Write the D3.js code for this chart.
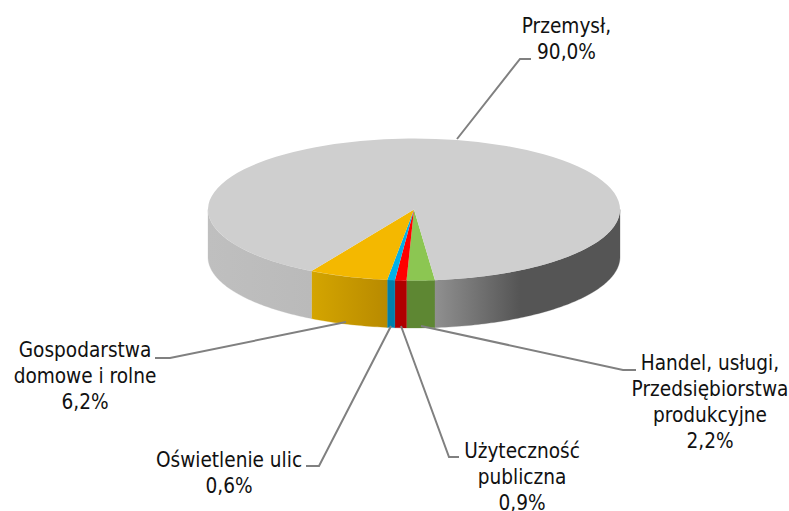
<!DOCTYPE html>
<html><head><meta charset="utf-8">
<script src="https://cdn.jsdelivr.net/npm/d3@7/dist/d3.min.js"></script>
<style>html,body{margin:0;background:#fff}svg{display:block}text{font-family:"DejaVu Sans Condensed","DejaVu Sans",sans-serif;font-size:20.6px;fill:#111;text-anchor:middle}</style>
</head><body><svg id="c" width="789" height="511"></svg>
<script>
const categories = ["Handel, usługi, Przedsiębiorstwa produkcyjne","Użyteczność publiczna","Oświetlenie ulic","Gospodarstwa domowe i rolne","Przemysł"];
const shares = [2.2,0.9,0.6,6.2,90.0];
const shareLabels = ["2,2%","0,9%","0,6%","6,2%","90,0%"];
const topColors = ["#8cc652","#ff0000","#00b0e8","#f4b800","#cfcfcf"];
const wallStops = [
 [[0,"#5e8733"],[1,"#5e8733"]],
 [[0,"#b00000"],[1,"#b00000"]],
 [[0,"#007fac"],[1,"#007fac"]],
 [[0,"#d4a500"],[1,"#b88a00"]],
 [[0,"#bfbfbf"],[0.25,"#bababa"],[0.55,"#909090"],[0.757,"#555555"],[1,"#555555"]]
];
const labelLines = [
 ["Handel, usługi,","Przedsiębiorstwa","produkcyjne","2,2%"],
 ["Użyteczność","publiczna","0,9%"],
 ["Oświetlenie ulic","0,6%"],
 ["Gospodarstwa","domowe i rolne","6,2%"],
 ["Przemysł,","90,0%"]
];
const labelCentres = [710,522,229,85,566.5];
const labelBases = [370,458,467,357,33];
const leaderPaths = [
 [[421,326],[623,370],[636,370]],
 [[401,326],[449,457],[459,457]],
 [[391,326],[319,466],[306,466]],
 [[346,322],[170,358],[155,358]],
 [[457,139],[520,59],[531,59]]
];
const cx=414, cy=209.5, rx=206, ry=71, depth=47.5, lineH=26;
const svg=d3.select("#c"), defs=svg.append("defs");
const pie=d3.pie().sort(null).value(d=>d).startAngle((180-5.85)*Math.PI/180).endAngle((180-5.85+360)*Math.PI/180);
const arcs=pie(shares);
const px=a=>cx+rx*Math.sin(a), py=a=>cy-ry*Math.cos(a);

const wall=d3.area().x(d=>px(d)).y0(d=>py(d)).y1(d=>py(d)+depth);
wallStops.forEach((st,i)=>{
  const g=defs.append("linearGradient").attr("id","w"+i).attr("gradientUnits","userSpaceOnUse");
  const a=arcs[i];
  const lo=i===4?cx-rx:px(a.endAngle), hi=i===4?cx+rx:px(a.startAngle);
  g.attr("x1",lo).attr("x2",hi).attr("y1",0).attr("y2",0);
  st.forEach(s=>g.append("stop").attr("offset",s[0]).attr("stop-color",s[1]));
});
const PI=Math.PI;
arcs.forEach((a,i)=>{
  const ranges=[];
  [[a.startAngle,a.endAngle],[a.startAngle+2*PI,a.endAngle+2*PI],[a.startAngle-2*PI,a.endAngle-2*PI]].forEach(([s,e])=>{
    const l=Math.max(s,PI/2), h=Math.min(e,3*PI/2);
    if(h>l) ranges.push([l,h]);
  });
  ranges.forEach(([l,h])=>{
    const n=Math.max(2,Math.ceil((h-l)*60));
    const pts=d3.range(n+1).map(k=>l+(h-l)*k/n);
    svg.append("path").attr("d",wall(pts)).attr("fill",`url(#w${i})`).attr("stroke",`url(#w${i})`).attr("stroke-width",0.3);
  });
});
const arc=d3.arc().innerRadius(0).outerRadius(rx);
const pieTop=svg.append("g").attr("transform",`translate(${cx},${cy}) scale(1,${ry/rx})`);
pieTop.selectAll("path").data(arcs).join("path").attr("d",arc).attr("fill",(d,i)=>topColors[i]);

const line=d3.line();
svg.selectAll(".l").data(leaderPaths).join("path").attr("class","l").attr("d",line).attr("fill","none").attr("stroke","#808080").attr("stroke-width",2);
labelLines.forEach((ls,i)=>{
  const t=svg.append("text");
  ls.forEach((s,k)=>t.append("tspan").attr("x",labelCentres[i]).attr("y",labelBases[i]+k*lineH).text(s));
});
</script></body></html>
